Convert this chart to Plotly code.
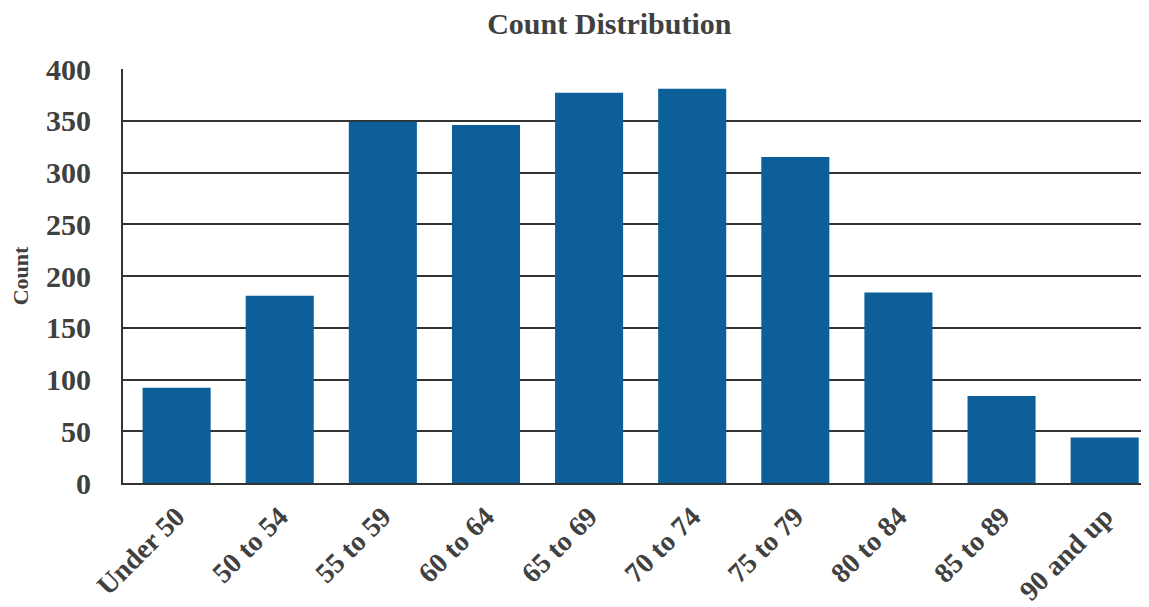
import plotly.graph_objects as go

# Values
categories = ["Under 50", "50 to 54", "55 to 59", "60 to 64", "65 to 69",
              "70 to 74", "75 to 79", "80 to 84", "85 to 89", "90 and up"]
counts = [92, 181, 349, 346, 377, 381, 315, 184, 84, 44]

BAR_COLOR = "#0c5f98"
TEXT_COLOR = "#404040"
LINE_COLOR = "#333333"
FONT = "Liberation Serif"

# the page body has an 8px margin, so the figure is sized to end at the window edge
fig = go.Figure(go.Bar(
    x=categories, y=counts, marker_color=BAR_COLOR, marker_line_width=0, width=0.66
))

fig.update_layout(
    title=dict(text="<b>Count Distribution</b>", x=0.527, xanchor="center",
               y=0.974, yanchor="middle",
               font=dict(family=FONT, size=30, color=TEXT_COLOR)),
    plot_bgcolor="white", paper_bgcolor="white",
    width=1141, height=599, autosize=False,
    margin=dict(l=115, r=0, t=61, b=124),
    font=dict(family=FONT, color=TEXT_COLOR),
    showlegend=False,
)

fig.update_xaxes(
    range=[-0.52, 9.43], tickangle=-45, automargin=False,
    tickvals=categories, ticktext=["<b>%s</b>" % c for c in categories],
    tickfont=dict(family=FONT, size=28, color=TEXT_COLOR),
    showline=True, linecolor=LINE_COLOR, linewidth=2,
    showgrid=False, ticks="", ticklabelstandoff=4,
)
fig.update_yaxes(
    range=[0, 400], dtick=50, automargin=False,
    tickfont=dict(family=FONT, size=30, color=TEXT_COLOR),
    tickprefix="<b>", ticksuffix="</b>",
    showline=True, linecolor=LINE_COLOR, linewidth=2,
    showgrid=True, gridcolor=LINE_COLOR, gridwidth=1.5,
    zeroline=False, ticks="", ticklabelstandoff=24,
    title=dict(text="<b>Count</b>", standoff=22,
               font=dict(family=FONT, size=22, color=TEXT_COLOR)),
)

fig.write_html("out.html")
